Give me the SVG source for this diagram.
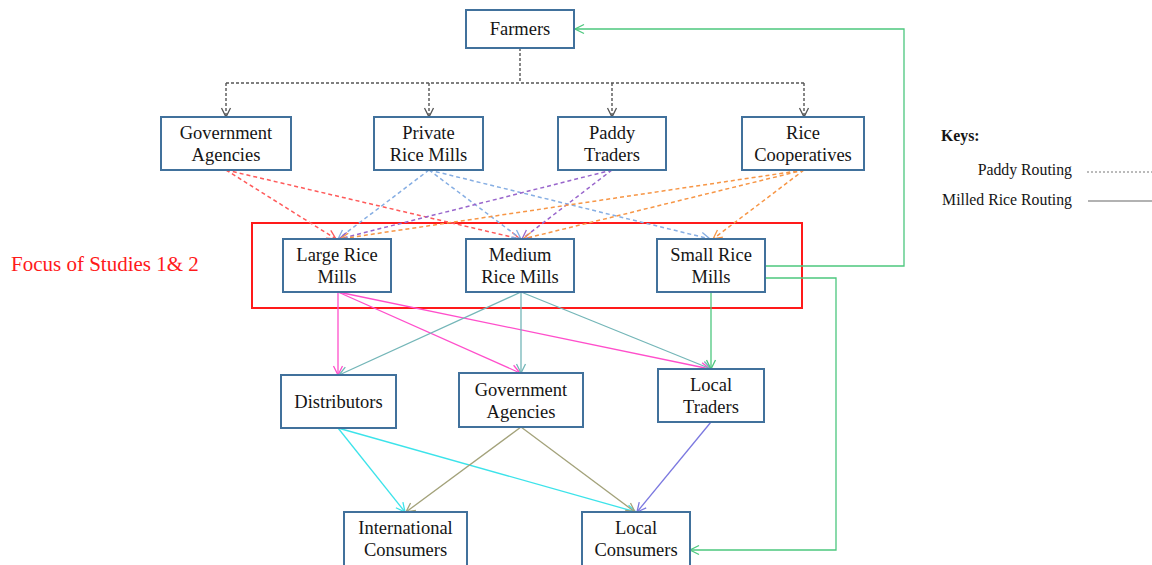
<svg xmlns="http://www.w3.org/2000/svg" width="1152" height="565" viewBox="0 0 1152 565">
<defs>
<style>
.box{fill:#fff;stroke:#41719C;stroke-width:2}
.t{font-family:"Liberation Serif","Times New Roman",serif;font-size:18.5px;fill:#151515;text-anchor:middle}
.k{font-family:"Liberation Serif","Times New Roman",serif;font-size:15.8px;fill:#151515}
.ln{fill:none;stroke-width:1.3}
.d{stroke-dasharray:4 3;stroke-width:1.5}
</style>
<marker id="aK" markerUnits="userSpaceOnUse" markerWidth="12" markerHeight="12" refX="10" refY="6" orient="auto"><path d="M1,1.5 L10,6 L1,10.5" fill="none" stroke="#555" stroke-width="1.3"/></marker>
<marker id="aR" markerUnits="userSpaceOnUse" markerWidth="12" markerHeight="12" refX="10" refY="6" orient="auto"><path d="M1,1.5 L10,6 L1,10.5" fill="none" stroke="#FF5A5A" stroke-width="1.3"/></marker>
<marker id="aB" markerUnits="userSpaceOnUse" markerWidth="12" markerHeight="12" refX="10" refY="6" orient="auto"><path d="M1,1.5 L10,6 L1,10.5" fill="none" stroke="#86AEE3" stroke-width="1.3"/></marker>
<marker id="aP" markerUnits="userSpaceOnUse" markerWidth="12" markerHeight="12" refX="10" refY="6" orient="auto"><path d="M1,1.5 L10,6 L1,10.5" fill="none" stroke="#9966CC" stroke-width="1.3"/></marker>
<marker id="aO" markerUnits="userSpaceOnUse" markerWidth="12" markerHeight="12" refX="10" refY="6" orient="auto"><path d="M1,1.5 L10,6 L1,10.5" fill="none" stroke="#F79646" stroke-width="1.3"/></marker>
<marker id="aM" markerUnits="userSpaceOnUse" markerWidth="12" markerHeight="12" refX="10" refY="6" orient="auto"><path d="M1,1.5 L10,6 L1,10.5" fill="none" stroke="#FF4FCB" stroke-width="1.3"/></marker>
<marker id="aT" markerUnits="userSpaceOnUse" markerWidth="12" markerHeight="12" refX="10" refY="6" orient="auto"><path d="M1,1.5 L10,6 L1,10.5" fill="none" stroke="#74B6B8" stroke-width="1.3"/></marker>
<marker id="aG" markerUnits="userSpaceOnUse" markerWidth="12" markerHeight="12" refX="10" refY="6" orient="auto"><path d="M1,1.5 L10,6 L1,10.5" fill="none" stroke="#4CC77E" stroke-width="1.3"/></marker>
<marker id="aC" markerUnits="userSpaceOnUse" markerWidth="12" markerHeight="12" refX="10" refY="6" orient="auto"><path d="M1,1.5 L10,6 L1,10.5" fill="none" stroke="#3CE3EA" stroke-width="1.3"/></marker>
<marker id="aL" markerUnits="userSpaceOnUse" markerWidth="12" markerHeight="12" refX="10" refY="6" orient="auto"><path d="M1,1.5 L10,6 L1,10.5" fill="none" stroke="#A3A27A" stroke-width="1.3"/></marker>
<marker id="aV" markerUnits="userSpaceOnUse" markerWidth="12" markerHeight="12" refX="10" refY="6" orient="auto"><path d="M1,1.5 L10,6 L1,10.5" fill="none" stroke="#7B78E0" stroke-width="1.3"/></marker>
</defs>
<rect width="1152" height="565" fill="#fff"/>

<g id="focus">
<rect x="252" y="223" width="550" height="85" fill="none" stroke="#FF1A1A" stroke-width="2"/>
<text x="11" y="271" style="font-family:'Liberation Serif','Times New Roman',serif;font-size:21px;fill:#FF1A1A">Focus of Studies 1&amp; 2</text>
</g>

<g id="connectors">
<g stroke="#555" stroke-dasharray="3 2" stroke-width="1.4" fill="none">
<path d="M520,48 V83"/>
<path d="M226,83 H804"/>
<path d="M226,83 V117" marker-end="url(#aK)"/>
<path d="M429,83 V117" marker-end="url(#aK)"/>
<path d="M612,83 V117" marker-end="url(#aK)"/>
<path d="M804,83 V117" marker-end="url(#aK)"/>
</g>
<g class="ln d" stroke="#FF5A5A">
<path d="M226,170 L336,239" marker-end="url(#aR)"/>
<path d="M226,170 L520,239" marker-end="url(#aR)"/>
</g>
<g class="ln d" stroke="#86AEE3">
<path d="M429,170 L338,239" marker-end="url(#aB)"/>
<path d="M429,170 L521,239" marker-end="url(#aB)"/>
<path d="M429,170 L710,239" marker-end="url(#aB)"/>
</g>
<g class="ln d" stroke="#9966CC">
<path d="M612,170 L339,239" marker-end="url(#aP)"/>
<path d="M612,170 L522,239" marker-end="url(#aP)"/>
</g>
<g class="ln d" stroke="#F79646">
<path d="M804,170 L340,239" marker-end="url(#aO)"/>
<path d="M804,170 L523,239" marker-end="url(#aO)"/>
<path d="M804,170 L713,239" marker-end="url(#aO)"/>
</g>
<g class="ln" stroke="#FF4FCB">
<path d="M338,292 L338,375" marker-end="url(#aM)"/>
<path d="M338,292 L520,373" marker-end="url(#aM)"/>
<path d="M338,292 L710,369" marker-end="url(#aM)"/>
</g>
<g class="ln" stroke="#74B6B8">
<path d="M521,292 L339,375" marker-end="url(#aT)"/>
<path d="M521,292 L521,373" marker-end="url(#aT)"/>
<path d="M521,292 L711,369" marker-end="url(#aT)"/>
</g>
<g class="ln" stroke="#4CC77E">
<path d="M711,292 L711,369" marker-end="url(#aG)"/>
<path d="M765,266 H904 V29 H575" marker-end="url(#aG)"/>
<path d="M765,278 H836 V550 H690" marker-end="url(#aG)"/>
</g>
<g class="ln" stroke="#3CE3EA">
<path d="M338,428 L405,512" marker-end="url(#aC)"/>
<path d="M338,428 L636,512" marker-end="url(#aC)"/>
</g>
<g class="ln" stroke="#A3A27A">
<path d="M521,427 L406,512" marker-end="url(#aL)"/>
<path d="M521,427 L635,512" marker-end="url(#aL)"/>
</g>
<g class="ln" stroke="#7B78E0">
<path d="M711,422 L637,512" marker-end="url(#aV)"/>
</g>
</g>

<g id="farmers"><rect class="box" x="466" y="10" width="108" height="38"/><text class="t" x="520" y="35">Farmers</text></g>
<g id="gov-agencies-1"><rect class="box" x="161" y="117" width="130" height="53"/><text class="t" x="226" y="139">Government</text><text class="t" x="226" y="161">Agencies</text></g>
<g id="private-rice-mills"><rect class="box" x="374" y="117" width="109" height="53"/><text class="t" x="428.5" y="139">Private</text><text class="t" x="428.5" y="161">Rice Mills</text></g>
<g id="paddy-traders"><rect class="box" x="558" y="117" width="108" height="53"/><text class="t" x="612" y="139">Paddy</text><text class="t" x="612" y="161">Traders</text></g>
<g id="rice-cooperatives"><rect class="box" x="742" y="117" width="122" height="53"/><text class="t" x="803" y="139">Rice</text><text class="t" x="803" y="161">Cooperatives</text></g>

<g id="large-rice-mills"><rect class="box" x="283" y="239" width="108" height="53"/><text class="t" x="337" y="261">Large Rice</text><text class="t" x="337" y="283">Mills</text></g>
<g id="medium-rice-mills"><rect class="box" x="466" y="239" width="108" height="53"/><text class="t" x="520" y="261">Medium</text><text class="t" x="520" y="283">Rice Mills</text></g>
<g id="small-rice-mills"><rect class="box" x="657" y="239" width="108" height="53"/><text class="t" x="711" y="261">Small Rice</text><text class="t" x="711" y="283">Mills</text></g>

<g id="distributors"><rect class="box" x="281" y="375" width="115" height="53"/><text class="t" x="338.5" y="408">Distributors</text></g>
<g id="gov-agencies-2"><rect class="box" x="459" y="373" width="124" height="54"/><text class="t" x="521" y="396">Government</text><text class="t" x="521" y="418">Agencies</text></g>
<g id="local-traders"><rect class="box" x="658" y="369" width="106" height="53"/><text class="t" x="711" y="391">Local</text><text class="t" x="711" y="413">Traders</text></g>

<g id="international-consumers"><rect class="box" x="344" y="512" width="123" height="54"/><text class="t" x="405.5" y="534">International</text><text class="t" x="405.5" y="556">Consumers</text></g>
<g id="local-consumers"><rect class="box" x="582" y="512" width="108" height="54"/><text class="t" x="636" y="534">Local</text><text class="t" x="636" y="556">Consumers</text></g>

<g id="keys">
<text class="k" x="941" y="141" font-weight="bold">Keys:</text>
<text class="k" x="1072" y="175" text-anchor="end">Paddy Routing</text>
<text class="k" x="1072" y="205" text-anchor="end">Milled Rice Routing</text>
<path d="M1087,172 H1152" stroke="#777" stroke-width="1" stroke-dasharray="2 2"/>
<path d="M1088,201 H1152" stroke="#666" stroke-width="1.2"/>
</g>
</svg>
